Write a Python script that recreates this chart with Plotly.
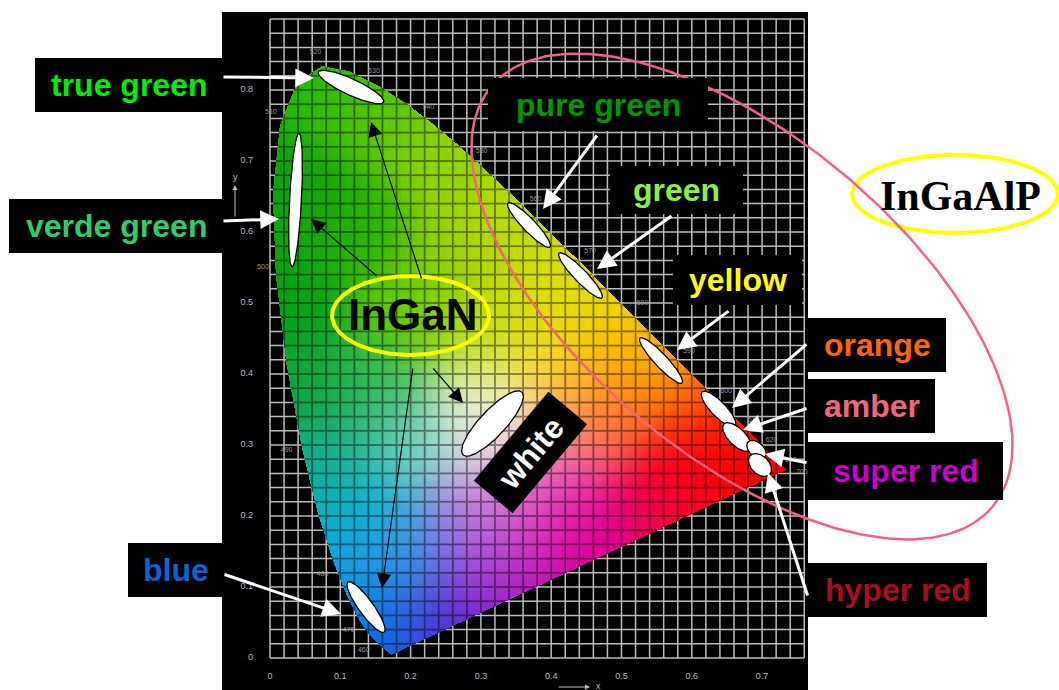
import numpy as np
import plotly.graph_objects as go

# ---------------- data ----------------
# CIE 1931 2-degree spectral locus (chromaticity x, y), 380-700 nm in 5 nm steps
wavelengths = list(range(380, 705, 5))
locus_x = [0.1741, 0.1740, 0.1738, 0.1736, 0.1733, 0.1730, 0.1726, 0.1721, 0.1714,
           0.1703, 0.1689, 0.1669, 0.1644, 0.1611, 0.1566, 0.1510, 0.1440, 0.1355, 0.1241,
           0.1096, 0.0913, 0.0687, 0.0454, 0.0235, 0.0082, 0.0039, 0.0139, 0.0389, 0.0743,
           0.1142, 0.1547, 0.1929, 0.2296, 0.2658, 0.3016, 0.3373, 0.3731, 0.4087, 0.4441,
           0.4788, 0.5125, 0.5448, 0.5752, 0.6029, 0.6270, 0.6482, 0.6658, 0.6801, 0.6915,
           0.7006, 0.7079, 0.7140, 0.7190, 0.7230, 0.7260, 0.7283, 0.7300, 0.7311, 0.7320,
           0.7327, 0.7334, 0.7340, 0.7344, 0.7346, 0.7347]
locus_y = [0.0050, 0.0050, 0.0049, 0.0049, 0.0048, 0.0048, 0.0048, 0.0048, 0.0051,
           0.0058, 0.0069, 0.0086, 0.0109, 0.0138, 0.0177, 0.0227, 0.0297, 0.0399, 0.0578,
           0.0868, 0.1327, 0.2007, 0.2950, 0.4127, 0.5384, 0.6548, 0.7502, 0.8120, 0.8338,
           0.8262, 0.8059, 0.7816, 0.7543, 0.7243, 0.6923, 0.6589, 0.6245, 0.5896, 0.5547,
           0.5202, 0.4866, 0.4544, 0.4242, 0.3965, 0.3725, 0.3514, 0.3340, 0.3197, 0.3083,
           0.2993, 0.2920, 0.2859, 0.2809, 0.2770, 0.2740, 0.2717, 0.2700, 0.2689, 0.2680,
           0.2673, 0.2666, 0.2660, 0.2656, 0.2654, 0.2653]
assert len(wavelengths) == len(locus_x) == len(locus_y)

# colours at sample chromaticities (x, y) -> RGB
swatch_x = [0.07, 0.15, 0.25, 0.35, 0.45, 0.52, 0.57, 0.62, 0.67, 0.72,
            0.02, 0.02, 0.05, 0.08, 0.12, 0.15, 0.17,
            0.12, 0.20, 0.30, 0.15, 0.20, 0.30, 0.33, 0.40, 0.45, 0.50, 0.40, 0.30, 0.20,
            0.25, 0.35, 0.45, 0.55, 0.60,
            0.40, 0.48, 0.35, 0.27, 0.42, 0.35, 0.30]
swatch_y = [0.82, 0.78, 0.70, 0.62, 0.52, 0.45, 0.41, 0.36, 0.31, 0.27,
            0.65, 0.50, 0.38, 0.28, 0.20, 0.12, 0.04,
            0.60, 0.50, 0.45, 0.38, 0.30, 0.35, 0.30, 0.40, 0.33, 0.35, 0.25, 0.20, 0.15,
            0.06, 0.12, 0.17, 0.22, 0.28,
            0.47, 0.42, 0.52, 0.56, 0.20, 0.20, 0.14]
swatch_rgb = [(40, 170, 0), (90, 185, 0), (140, 200, 0), (185, 210, 0), (215, 215, 0),
              (235, 200, 0), (240, 160, 0), (240, 90, 0), (230, 20, 0), (225, 0, 0),
              (20, 150, 20), (10, 150, 30), (20, 155, 60), (30, 165, 140), (20, 175, 200),
              (30, 150, 215), (20, 110, 210),
              (40, 165, 5), (100, 190, 5), (185, 215, 50), (60, 175, 90), (120, 205, 195),
              (240, 245, 225), (245, 232, 232), (245, 215, 90), (240, 140, 110),
              (240, 100, 50), (230, 120, 195), (185, 150, 225), (90, 155, 220),
              (100, 40, 195), (170, 20, 175), (210, 0, 145), (225, 0, 70), (230, 0, 30),
              (230, 215, 20), (240, 180, 20), (200, 210, 10), (150, 200, 10),
              (215, 30, 160), (220, 110, 200), (160, 90, 215)]
assert len(swatch_x) == len(swatch_y) == len(swatch_rgb)

# LED chromaticity regions (ellipses): centre, semi-axes (CIE x units), tilt in degrees
led_names = ["true green", "verde green", "white", "blue", "pure green", "green",
             "yellow", "orange", "amber", "super red", "hyper red"]
led_cx = [0.1152, 0.0363, 0.3165, 0.1366, 0.3684, 0.4417, 0.5562, 0.6380, 0.6643, 0.6920, 0.6970]
led_cy = [0.8042, 0.6451, 0.3303, 0.0718, 0.6099, 0.5387, 0.4190, 0.3507, 0.3113, 0.2937, 0.2718]
led_a = [0.0512, 0.0953, 0.0612, 0.0441, 0.0432, 0.0441, 0.0438, 0.0337, 0.0262, 0.0161, 0.0192]
led_b = [0.0115, 0.0085, 0.0185, 0.0105, 0.0092, 0.0092, 0.0092, 0.0107, 0.0121, 0.0100, 0.0128]
led_angle = [-24.8, 87.0, 46.9, -54.2, -46.3, -46.3, -47.0, -46.0, -45.0, -41.0, -45.0]

tick_values = [0, 0.1, 0.2, 0.3, 0.4, 0.5, 0.6, 0.7, 0.8]
x_tick_labels = ["0", "0.1", "0.2", "0.3", "0.4", "0.5", "0.6", "0.7"]
y_tick_labels = ["0", "0.1", "0.2", "0.3", "0.4", "0.5", "0.6", "0.7", "0.8"]
wl_label_values = [460, 470, 480, 490, 500, 510, 520, 530, 540, 550, 560, 570,
                   580, 590, 600, 610, 620, 640, 700]

# ---------------- geometry of the figure ----------------
W, H = 1059, 690
X0_PX, Y0_PX = 270.0, 658.0      # where chromaticity (0,0) sits on the page
PX_X, PX_Y = 703.0, 710.0        # pixels per unit of x and y
x_range = [(0 - X0_PX) / PX_X, (W - X0_PX) / PX_X]
y_range = [(Y0_PX - H) / PX_Y, Y0_PX / PX_Y]


def at(px, py):
    return (px - X0_PX) / PX_X, (Y0_PX - py) / PX_Y


def ellipse_xy(cx, cy, a, b, ang_deg, n=160):
    t = np.linspace(0, 2 * np.pi, n)
    th = np.radians(ang_deg)
    ex = a * np.cos(t) * np.cos(th) - b * np.sin(t) * np.sin(th)
    ey = a * np.cos(t) * np.sin(th) + b * np.sin(t) * np.cos(th)
    return cx + ex, cy + ey * PX_X / PX_Y


# ---------------- chromaticity colour image ----------------
dx, dy = 1 / PX_X, 1 / PX_Y
xs = np.arange(0, 0.745, dx)
ys = np.arange(0, 0.845, dy)
XX, YY = np.meshgrid(xs + dx / 2, ys + dy / 2)
lx = np.array(locus_x)
ly = np.array(locus_y)
inside = np.zeros(XX.shape, dtype=bool)
j = len(lx) - 1
for i in range(len(lx)):
    xi, yi, xj, yj = lx[i], ly[i], lx[j], ly[j]
    cond = (yi > YY) != (yj > YY)
    xint = (xj - xi) * (YY - yi) / ((yj - yi) if yj != yi else 1e-12) + xi
    inside ^= cond & (XX < xint)
    j = i

# smooth colour field through the swatches (normalised gaussian weights)
sx = np.array(swatch_x)
sy = np.array(swatch_y)
sc = np.array(swatch_rgb, dtype=float)
sigma = 0.05
wsum = np.zeros(XX.shape)
acc = np.zeros(XX.shape + (3,))
for k in range(len(sx)):
    w = np.exp(-((XX - sx[k]) ** 2 + (YY - sy[k]) ** 2) / (2 * sigma ** 2)) + 1e-12
    wsum += w
    acc += w[..., None] * sc[k]
rgb = acc / wsum[..., None] / 255.0
# restore some of the saturation lost by blending
mean = rgb.mean(axis=-1, keepdims=True)
rgb = np.clip(mean + (rgb - mean) * 1.15, 0, 1)

# darker grid lines on top of the coloured area
step = 0.02
dgx = np.abs(XX - np.round(XX / step) * step) * PX_X
dgy = np.abs(YY - np.round(YY / step) * step) * PX_Y
line_strength = np.maximum(np.clip(1.4 - dgx, 0, 1), np.clip(1.4 - dgy, 0, 1))
rgb = rgb * (1 - 0.45 * line_strength)[..., None]

img = np.zeros(XX.shape + (4,), dtype=np.uint8)
img[..., :3] = np.clip(rgb * 255, 0, 255).astype(np.uint8)
img[..., 3] = np.where(inside, 255, 0).astype(np.uint8)

fig = go.Figure()
fig.add_trace(go.Image(z=img, colormodel="rgba", zmin=[0, 0, 0, 0], zmax=[255, 255, 255, 255],
                       x0=xs[0] + dx / 2, dx=dx, y0=ys[0] + dy / 2, dy=dy, hoverinfo="skip"))

# ---------------- background + white grid ----------------
bx0, by0 = at(222, 690)
bx1, by1 = at(808, 12)
shapes = [dict(type="rect", xref="x", yref="y", x0=bx0, y0=by0, x1=bx1, y1=by1,
               fillcolor="black", line=dict(width=0), layer="below")]
gx = np.round(np.arange(0, 0.7601, step), 4)
gy = np.round(np.arange(0, 0.9001, step), 4)
path = "".join(f"M{v},0 L{v},0.9 " for v in gx) + "".join(f"M0,{v} L0.76,{v} " for v in gy)
shapes.append(dict(type="path", xref="x", yref="y", path=path, layer="below",
                   line=dict(color="rgba(220,220,220,0.85)", width=1.5)))

# tick labels
fig.add_trace(go.Scatter(x=tick_values[:8], y=[-0.027] * 8, mode="text", text=x_tick_labels,
                         textfont=dict(size=9, color="#bdbdbd", family="Liberation Sans"),
                         hoverinfo="skip"))
fig.add_trace(go.Scatter(x=[-0.024] * 9, y=tick_values, mode="text", text=y_tick_labels,
                         textposition="middle left",
                         textfont=dict(size=9, color="#bdbdbd", family="Liberation Sans"),
                         hoverinfo="skip"))
# wavelength labels along the locus
wl_x, wl_y, wl_t = [], [], []
for wl in wl_label_values:
    k = wavelengths.index(wl)
    vx, vy = locus_x[k] - 0.31, locus_y[k] - 0.33
    nrm = np.hypot(vx, vy)
    wl_x.append(locus_x[k] + 0.022 * vx / nrm)
    wl_y.append(locus_y[k] + 0.022 * vy / nrm)
    wl_t.append(str(wl))
fig.add_trace(go.Scatter(x=wl_x, y=wl_y, mode="text", text=wl_t,
                         textfont=dict(size=7, color="#9a9a9a", family="Liberation Sans"),
                         hoverinfo="skip"))

# ---------------- LED ellipses ----------------
for i, nm in enumerate(led_names):
    ex, ey = ellipse_xy(led_cx[i], led_cy[i], led_a[i], led_b[i], led_angle[i])
    fig.add_trace(go.Scatter(x=ex, y=ey, mode="lines", fill="toself", fillcolor="white",
                             line=dict(color="black", width=1.3), hoverinfo="skip", name=nm))

# outline ellipses (InGaN, InGaAlP, InGaAlP family)
for (pcx, pcy, pa, pb, pang, col, wdt) in [
        (410.5, 315.5, 78.5, 39.5, 0, "#ffff00", 4),
        (955, 194, 103, 39, 0, "#ffff00", 4),
        (742, 296.5, 327, 159, -40, "#f06482", 2.5)]:
    cx, cy = at(pcx, pcy)
    ex, ey = ellipse_xy(cx, cy, pa / PX_X, pb / PX_X, pang, n=300)
    fig.add_trace(go.Scatter(x=ex, y=ey, mode="lines", line=dict(color=col, width=wdt),
                             hoverinfo="skip"))

# ---------------- labels ----------------
SANS = "Liberation Sans, Arial, sans-serif"
labels = [
    ("true green", (35, 58, 223, 112), "#00ee00"),
    ("verde green", (9, 199, 223, 253), "#2ecc6a"),
    ("blue", (128, 543, 223, 597), "#0a64d2"),
    ("pure green", (488, 78, 708, 131), "#009600"),
    ("green", (610, 166, 743, 214), "#8cf03c"),
    ("yellow", (673, 255, 802, 305), "#ffff00"),
    ("orange", (808, 318, 946, 372), "#ff6600"),
    ("amber", (808, 379, 935, 433), "#f0657f"),
    ("super red", (808, 442, 1003, 500), "#cc00cc"),
    ("hyper red", (808, 563, 987, 617), "#a80f1e"),
]
annotations = []
for txt, (x0p, y0p, x1p, y1p), col in labels:
    ax0, ay0 = at(x0p, y1p)
    ax1, ay1 = at(x1p, y0p)
    shapes.append(dict(type="rect", xref="x", yref="y", x0=ax0, y0=ay0, x1=ax1, y1=ay1,
                       fillcolor="black", line=dict(width=0), layer="above"))
    tx, ty = at((x0p + x1p) / 2, (y0p + y1p) / 2)
    annotations.append(dict(x=tx, y=ty, xref="x", yref="y", text=f"<b>{txt}</b>",
                            showarrow=False, font=dict(family=SANS, size=32, color=col)))

# rotated "white" label
c = np.array([530.5, 452.5])
u = np.array([np.cos(np.radians(50)), -np.sin(np.radians(50))])
v = np.array([np.sin(np.radians(50)), np.cos(np.radians(50))])
corners = [c + 58 * u + 25.3 * v, c + 58 * u - 25.3 * v, c - 58 * u - 25.3 * v, c - 58 * u + 25.3 * v]
pts = [at(*p) for p in corners]
shapes.append(dict(type="path", xref="x", yref="y", layer="above", fillcolor="black",
                   line=dict(width=0),
                   path="M" + " L".join(f"{p[0]},{p[1]}" for p in pts) + " Z"))
tx, ty = at(530.5, 452.5)
annotations.append(dict(x=tx, y=ty, xref="x", yref="y", text="<b>white</b>", textangle=-50,
                        showarrow=False, font=dict(family=SANS, size=32, color="white")))

# InGaN / InGaAlP
tx, ty = at(413, 314)
annotations.append(dict(x=tx, y=ty, xref="x", yref="y", text="<b>InGaN</b>", showarrow=False,
                        font=dict(family=SANS, size=44, color="black")))
tx, ty = at(960, 196)
annotations.append(dict(x=tx, y=ty, xref="x", yref="y", text="<b>InGaAlP</b>", showarrow=False,
                        font=dict(family="Liberation Serif, Times New Roman, serif", size=42,
                                  color="black")))

# arrows: (tip, tail, colour, width, size)
arrows = [
    ((311, 219), (378, 277), "black", 1.2, 2.4),
    ((371, 122), (422, 280), "black", 1.2, 2.4),
    ((463, 403), (432, 367), "black", 1.2, 2.4),
    ((382, 588), (413, 367), "black", 1.2, 2.4),
    ((314, 78), (222, 77), "white", 3, 1.25),
    ((279, 219), (222, 221), "white", 3, 1.25),
    ((341, 614), (223, 574), "white", 3, 1.25),
    ((543, 209), (598, 134), "white", 3, 1.25),
    ((597, 269), (673, 215), "white", 3, 1.25),
    ((677, 350), (730, 310), "white", 3, 1.25),
    ((732, 408), (808, 343), "white", 3, 1.25),
    ((743, 430), (808, 408), "white", 3, 1.25),
    ((765, 454), (808, 463), "white", 3, 1.25),
    ((768, 473), (808, 597), "white", 3, 1.25),
]
for tip, tail, col, wdt, sz in arrows:
    x, y = at(*tip)
    ax, ay = at(*tail)
    annotations.append(dict(x=x, y=y, ax=ax, ay=ay, xref="x", yref="y", axref="x", ayref="y",
                            text="", showarrow=True, arrowhead=2, arrowsize=sz,
                            arrowwidth=wdt, arrowcolor=col, standoff=0))

# small axis arrows x / y
x, y = at(590, 687); ax, ay = at(557, 687)
annotations.append(dict(x=x, y=y, ax=ax, ay=ay, xref="x", yref="y", axref="x", ayref="y",
                        text="", showarrow=True, arrowhead=2, arrowsize=1, arrowwidth=1,
                        arrowcolor="#bdbdbd", standoff=0))
x, y = at(598, 686)
annotations.append(dict(x=x, y=y, xref="x", yref="y", text="x", showarrow=False,
                        font=dict(family=SANS, size=9, color="#bdbdbd")))
x, y = at(235, 185); ax, ay = at(235, 218)
annotations.append(dict(x=x, y=y, ax=ax, ay=ay, xref="x", yref="y", axref="x", ayref="y",
                        text="", showarrow=True, arrowhead=2, arrowsize=1, arrowwidth=1,
                        arrowcolor="#bdbdbd", standoff=0))
x, y = at(235, 177)
annotations.append(dict(x=x, y=y, xref="x", yref="y", text="y", showarrow=False,
                        font=dict(family=SANS, size=9, color="#bdbdbd")))

fig.update_layout(
    width=W, height=H, margin=dict(l=0, r=0, t=0, b=0, pad=0),
    paper_bgcolor="white", plot_bgcolor="white", showlegend=False, hovermode=False,
    xaxis=dict(range=x_range, visible=False, showgrid=False, zeroline=False, fixedrange=True),
    yaxis=dict(range=y_range, visible=False, showgrid=False, zeroline=False, fixedrange=True,
               scaleanchor=False, autorange=False),
    shapes=shapes, annotations=annotations,
)

fig.write_html("out.html", include_plotlyjs=True, config={"displayModeBar": False},
               post_script="document.body.style.margin='0';document.body.style.overflow='hidden';")
